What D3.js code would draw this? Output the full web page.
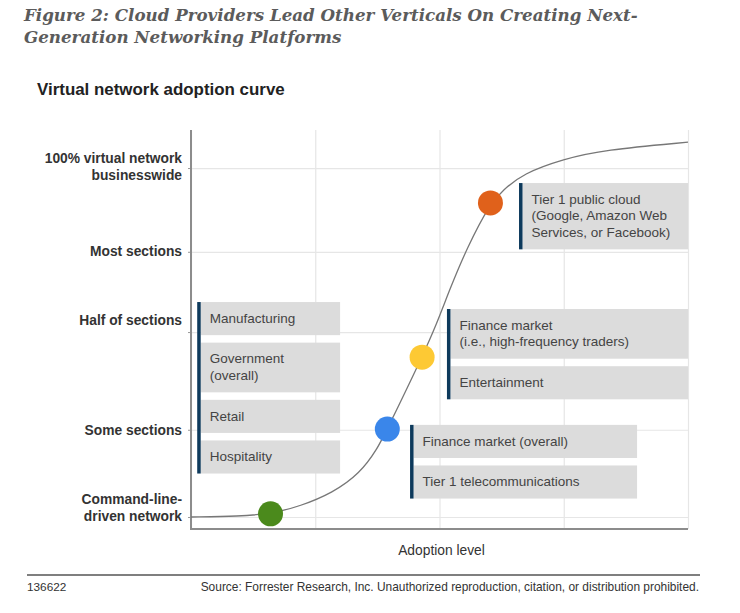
<!DOCTYPE html>
<html><head><meta charset="utf-8">
<script src="https://cdn.jsdelivr.net/npm/d3@7"></script>
<style>body{margin:0;background:#fff}svg{display:block}</style>
</head><body><svg id="c" width="740" height="613"></svg>
<script>
// ---------- data ----------
const titleLines = ["Figure 2: Cloud Providers Lead Other Verticals On Creating Next-", "Generation Networking Platforms"];
const subtitle = "Virtual network adoption curve";
const xAxisTitle = "Adoption level";
const footerId = "136622";
const footerSource = "Source: Forrester Research, Inc. Unauthorized reproduction, citation, or distribution prohibited.";

const levelNames = [["Command-line-", "driven network"], ["Some sections"], ["Half of sections"], ["Most sections"], ["100% virtual network", "businesswide"]];
const levelValues = [0, 25, 53, 76, 100];          // gridline levels
const levelLabelValues = [2.6, 24.9, 56.4, 76.2, 100.4]; // where the label text sits
const adoptionTicks = [0, 1, 2, 3, 4];

const curveX = [0, 0.39, 0.64, 0.88, 1.14, 1.36, 1.50, 1.58, 1.86, 1.98, 2.08, 2.22, 2.41, 2.51, 2.67, 3.00, 3.32, 4.0];
const curveY = [0, 0.2, 0.9, 3.1, 6.9, 12.5, 19.5, 25.2, 45.8, 55.6, 65.0, 77.1, 90.0, 93.6, 98.4, 102.6, 105.2, 107.4];

const dotX = [0.64, 1.58, 1.86, 2.41];
const dotY = [0.9, 25.2, 45.8, 90.0];

const groupItems = [
  [["Manufacturing"], ["Government", "(overall)"], ["Retail"], ["Hospitality"]],
  [["Finance market (overall)"], ["Tier 1 telecommunications"]],
  [["Finance market", "(i.e., high-frequency traders)"], ["Entertainment"]],
  [["Tier 1 public cloud", "(Google, Amazon Web", "Services, or Facebook)"]]
];
const groupStartX = [0.05, 1.763, 2.06, 2.64];
const groupEndX = [1.20, 3.59, 4.0, 4.0];
const groupTopY = [61.6, 26.4, 59.6, 95.7];

// ---------- styles ----------
const dotColors = ["#4b8a1c", "#3a86ea", "#fdc934", "#e0611b"];
const sans = "'Liberation Sans', Arial, Helvetica, sans-serif";

// ---------- drawing ----------
const svg = d3.select("#c");
const x = d3.scaleLinear().domain([0, 4]).range([191, 688]);
const y = d3.scaleLinear().domain([-3.44, 110.9]).range([529, 130]);

function fit(sel, base, target) {
  const w = sel.node().getComputedTextLength();
  const f = base * target / w;
  sel.attr("font-size", f);
  return f;
}

// title
const title = svg.append("g").attr("font-family", "'DejaVu Serif', Georgia, serif")
  .attr("font-style", "italic").attr("font-weight", "bold").attr("fill", "#5b5b5b");
const t1 = title.append("text").attr("x", 24).attr("y", 21).attr("font-size", 17).text(titleLines[0]);
const fs = fit(t1, 17, 614);
title.append("text").attr("x", 24).attr("y", 43).attr("font-size", fs).text(titleLines[1]);

const st = svg.append("text").attr("x", 37).attr("y", 95).attr("font-family", sans).attr("font-size", 16)
  .attr("font-weight", "bold").attr("fill", "#222").text(subtitle);
fit(st, 16, 248);

// grid
const gx = svg.append("g").attr("transform", `translate(0,${y.range()[0]})`)
  .call(d3.axisBottom(x).tickValues(adoptionTicks).tickSize(-(y.range()[0] - y.range()[1])).tickFormat(""));
gx.select(".domain").remove();
gx.selectAll("line").attr("stroke", "#e6e6e6").attr("stroke-width", 1.2);

const gy = svg.append("g").attr("transform", `translate(${x.range()[0]},0)`)
  .call(d3.axisLeft(y).tickValues(levelValues).tickSize(-(x.range()[1] - x.range()[0])).tickFormat(""));
gy.select(".domain").remove();
gy.selectAll("line").attr("stroke", "#e6e6e6").attr("stroke-width", 1.2);

// small outward ticks
const tk = svg.append("g").attr("transform", `translate(${x.range()[0]},0)`)
  .call(d3.axisLeft(y).tickValues(levelValues).tickSize(3).tickFormat(""));
tk.select(".domain").remove();
tk.selectAll("line").attr("stroke", "#999");

// y labels
const lab = svg.append("g").attr("font-family", sans).attr("font-size", 13.8).attr("font-weight", "bold")
  .attr("fill", "#333").attr("text-anchor", "end");
levelNames.forEach((lines, i) => {
  const t = lab.append("text").attr("x", 182).attr("y", y(levelLabelValues[i]));
  const n = lines.length;
  lines.forEach((s, j) => {
    t.append("tspan").attr("x", 182).attr("y", y(levelLabelValues[i]) + 5 + (j - (n - 1) / 2) * 17).text(s);
  });
});

// axes lines
svg.append("line").attr("x1", x(0)).attr("x2", x(0)).attr("y1", y.range()[1]).attr("y2", y.range()[0] + 1)
  .attr("stroke", "#8c8c8c").attr("stroke-width", 2);
svg.append("line").attr("x1", x(0)).attr("x2", x(4)).attr("y1", y.range()[0]).attr("y2", y.range()[0])
  .attr("stroke", "#8c8c8c").attr("stroke-width", 2);

// boxes
const boxLayer = svg.append("g").attr("font-family", sans).attr("font-size", 13.5);
const lineH = 16.6, gap = 7.5, barW = 3.5;
groupItems.forEach((items, gi) => {
  const g = boxLayer.append("g");
  let top = y(groupTopY[gi]);
  const x0 = x(groupStartX[gi]), x1 = x(groupEndX[gi]);
  const start = top;
  items.forEach(lines => {
    const h = lineH * lines.length + 16.5;
    g.append("rect").attr("x", x0 + barW).attr("y", top).attr("width", x1 - x0 - barW).attr("height", h).attr("fill", "#dcdcdc");
    const t = g.append("text").attr("fill", "#444");
    lines.forEach((s, j) => t.append("tspan").attr("x", x0 + barW + 9).attr("y", top + 20.8 + j * lineH).text(s));
    top += h + gap;
  });
  top -= gap;
  g.append("rect").attr("x", x0).attr("y", start).attr("width", barW).attr("height", top - start).attr("fill", "#0e3a5c");
});

// curve
const pts = curveX.map((v, i) => [v, curveY[i]]);
svg.append("path").attr("d", d3.line().x(d => x(d[0])).y(d => y(d[1])).curve(d3.curveBasis)(pts))
  .attr("fill", "none").attr("stroke", "#777").attr("stroke-width", 1.3);

// dots
svg.append("g").selectAll("circle").data(dotX).join("circle")
  .attr("cx", d => x(d)).attr("cy", (d, i) => y(dotY[i])).attr("r", 12.5)
  .attr("fill", (d, i) => dotColors[i]);

// x axis title
svg.append("text").attr("x", x(2) + 2).attr("y", 555).attr("text-anchor", "middle")
  .attr("font-family", sans).attr("font-size", 13.8).attr("fill", "#333").text(xAxisTitle);

// footer
svg.append("line").attr("x1", 27).attr("x2", 700).attr("y1", 575).attr("y2", 575).attr("stroke", "#555").attr("stroke-width", 1.5);
svg.append("text").attr("x", 27).attr("y", 591).attr("font-family", sans).attr("font-size", 11.8).attr("fill", "#333").text(footerId);
const src = svg.append("text").attr("x", 699).attr("y", 591).attr("text-anchor", "end").attr("font-family", sans)
  .attr("font-size", 11.5).attr("fill", "#333").text(footerSource);
fit(src, 11.5, 499);
</script></body></html>
